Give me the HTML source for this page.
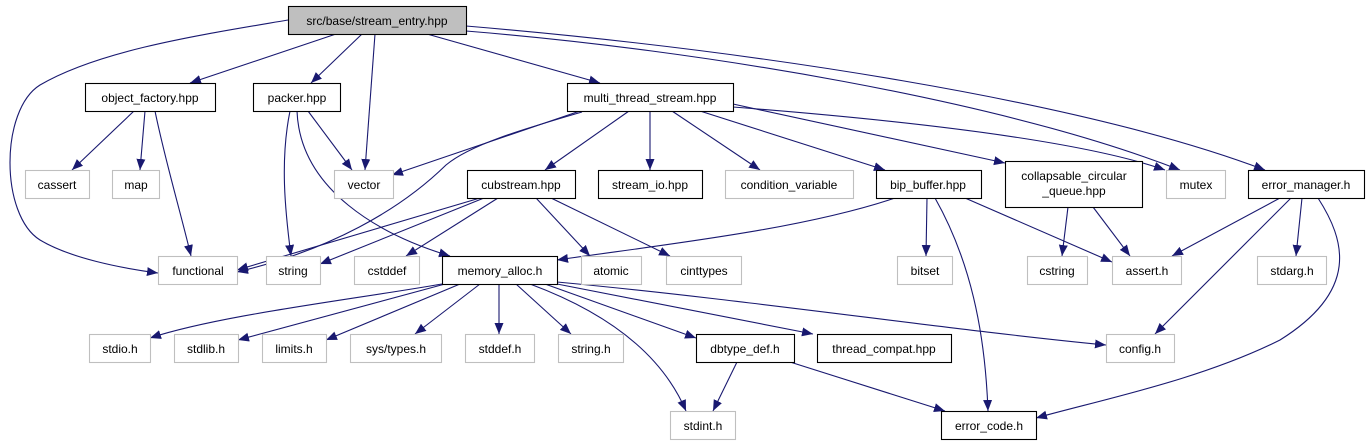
<!DOCTYPE html>
<html><head><meta charset="utf-8"><style>
html,body{margin:0;padding:0;background:#fff;width:1366px;height:445px;overflow:hidden}
svg text{font-family:"Liberation Sans",sans-serif;font-size:12px;fill:#000}
</style></head><body>
<svg width="1366" height="445" viewBox="0 0 1366 445" xmlns="http://www.w3.org/2000/svg">
<defs><marker id="a" markerUnits="userSpaceOnUse" markerWidth="12" markerHeight="10" refX="11" refY="5" orient="auto"><path d="M0,0.5 L11,5 L0,9.5 Z" fill="#191970"/></marker></defs>
<g fill="none" stroke="#191970" stroke-width="1.1" marker-end="url(#a)">
<path d="M288,20 C200,35 100,50 40,85 C0,110 0,215 40,240 C70,258 120,268 158,273"/>
<path d="M336,34 L190,83"/>
<path d="M362,34 L311,83"/>
<path d="M375,34 L365,170"/>
<path d="M427,34 L600,83"/>
<path d="M466,31 C700,50 1000,100 1180,170"/>
<path d="M466,26 C750,50 1080,100 1265,170"/>
<path d="M134,111 L72,170"/>
<path d="M145,111 L140,170"/>
<path d="M155,111 C165,160 180,210 191,256"/>
<path d="M290,111 C280,160 285,210 291,256"/>
<path d="M297,111 C300,190 380,235 450,256"/>
<path d="M308,111 L352,170"/>
<path d="M580,111 L392,175"/>
<path d="M582,112 C520,130 470,145 446,165 C400,210 330,250 237,272"/>
<path d="M629,111 L545,170"/>
<path d="M650,111 L650,170"/>
<path d="M672,111 L760,170"/>
<path d="M700,111 L885,170"/>
<path d="M733,104 L1005,163"/>
<path d="M733,107 C900,120 1080,140 1165,170"/>
<path d="M480,198 L237,270"/>
<path d="M484,198 L320,264"/>
<path d="M498,198 L406,256"/>
<path d="M536,198 L590,256"/>
<path d="M551,198 L670,256"/>
<path d="M895,198 C800,230 660,245 557,260"/>
<path d="M927,198 L926,256"/>
<path d="M935,198 C970,260 985,330 988,411"/>
<path d="M965,198 L1112,262"/>
<path d="M1068,207 L1062,256"/>
<path d="M1093,207 L1130,256"/>
<path d="M1280,198 L1172,256"/>
<path d="M1291,198 L1155,334"/>
<path d="M1302,198 L1296,256"/>
<path d="M1318,198 C1345,240 1360,290 1280,340 C1200,380 1100,400 1036,418"/>
<path d="M442,284 C350,300 220,315 150,338"/>
<path d="M445,284 L238,340"/>
<path d="M460,284 L326,340"/>
<path d="M480,284 L415,334"/>
<path d="M499,284 L499,334"/>
<path d="M516,284 L571,334"/>
<path d="M530,284 C600,310 660,350 686,411"/>
<path d="M545,284 L696,338"/>
<path d="M557,284 L813,334"/>
<path d="M557,282 C750,300 950,330 1106,345"/>
<path d="M737,362 L713,411"/>
<path d="M790,362 L945,411"/>
</g>
<g stroke-width="1.1">
<rect x="288.5" y="6.5" width="178" height="28" fill="#bfbfbf" stroke="#000"/>
<g fill="#fff" stroke="#000">
<rect x="85.5" y="83.5" width="130" height="28"/>
<rect x="253.5" y="83.5" width="87" height="28"/>
<rect x="567.5" y="83.5" width="166" height="28"/>
<rect x="467.5" y="170.5" width="108" height="28"/>
<rect x="598.5" y="170.5" width="104" height="28"/>
<rect x="876.5" y="170.5" width="105" height="28"/>
<rect x="1005.5" y="161.5" width="137" height="46"/>
<rect x="1248.5" y="170.5" width="116" height="28"/>
<rect x="442.5" y="256.5" width="115" height="28"/>
<rect x="696.5" y="334.5" width="98" height="28"/>
<rect x="817.5" y="334.5" width="134" height="28"/>
<rect x="941.5" y="411.5" width="95" height="28"/>
</g>
<g fill="#fff" stroke="#bfbfbf">
<rect x="25.5" y="170.5" width="64" height="28"/>
<rect x="112.5" y="170.5" width="47" height="28"/>
<rect x="334.5" y="170.5" width="59" height="28"/>
<rect x="725.5" y="170.5" width="128" height="28"/>
<rect x="1166.5" y="170.5" width="59" height="28"/>
<rect x="158.5" y="256.5" width="79" height="28"/>
<rect x="266.5" y="256.5" width="54" height="28"/>
<rect x="354.5" y="256.5" width="65" height="28"/>
<rect x="581.5" y="256.5" width="60" height="28"/>
<rect x="666.5" y="256.5" width="75" height="28"/>
<rect x="897.5" y="256.5" width="55" height="28"/>
<rect x="1027.5" y="256.5" width="60" height="28"/>
<rect x="1112.5" y="256.5" width="69" height="28"/>
<rect x="1257.5" y="256.5" width="69" height="28"/>
<rect x="89.5" y="334.5" width="61" height="28"/>
<rect x="174.5" y="334.5" width="64" height="28"/>
<rect x="262.5" y="334.5" width="64" height="28"/>
<rect x="350.5" y="334.5" width="91" height="28"/>
<rect x="465.5" y="334.5" width="69" height="28"/>
<rect x="558.5" y="334.5" width="65" height="28"/>
<rect x="1106.5" y="334.5" width="68" height="28"/>
<rect x="670.5" y="411.5" width="65" height="28"/>
</g>
</g>
<g text-anchor="middle">
<text x="377" y="25">src/base/stream_entry.hpp</text>
<text x="150" y="102">object_factory.hpp</text>
<text x="297" y="102">packer.hpp</text>
<text x="650" y="102">multi_thread_stream.hpp</text>
<text x="57" y="189">cassert</text>
<text x="136" y="189">map</text>
<text x="364" y="189">vector</text>
<text x="521" y="189">cubstream.hpp</text>
<text x="650" y="189">stream_io.hpp</text>
<text x="789" y="189">condition_variable</text>
<text x="928" y="189">bip_buffer.hpp</text>
<text x="1074" y="180">collapsable_circular</text>
<text x="1074" y="195">_queue.hpp</text>
<text x="1196" y="189">mutex</text>
<text x="1306" y="189">error_manager.h</text>
<text x="198" y="275">functional</text>
<text x="293" y="275">string</text>
<text x="387" y="275">cstddef</text>
<text x="500" y="275">memory_alloc.h</text>
<text x="611" y="275">atomic</text>
<text x="704" y="275">cinttypes</text>
<text x="925" y="275">bitset</text>
<text x="1057" y="275">cstring</text>
<text x="1147" y="275">assert.h</text>
<text x="1292" y="275">stdarg.h</text>
<text x="120" y="353">stdio.h</text>
<text x="206" y="353">stdlib.h</text>
<text x="294" y="353">limits.h</text>
<text x="396" y="353">sys/types.h</text>
<text x="500" y="353">stddef.h</text>
<text x="591" y="353">string.h</text>
<text x="745" y="353">dbtype_def.h</text>
<text x="884" y="353">thread_compat.hpp</text>
<text x="1140" y="353">config.h</text>
<text x="703" y="430">stdint.h</text>
<text x="989" y="430">error_code.h</text>
</g>
</svg>
</body></html>
